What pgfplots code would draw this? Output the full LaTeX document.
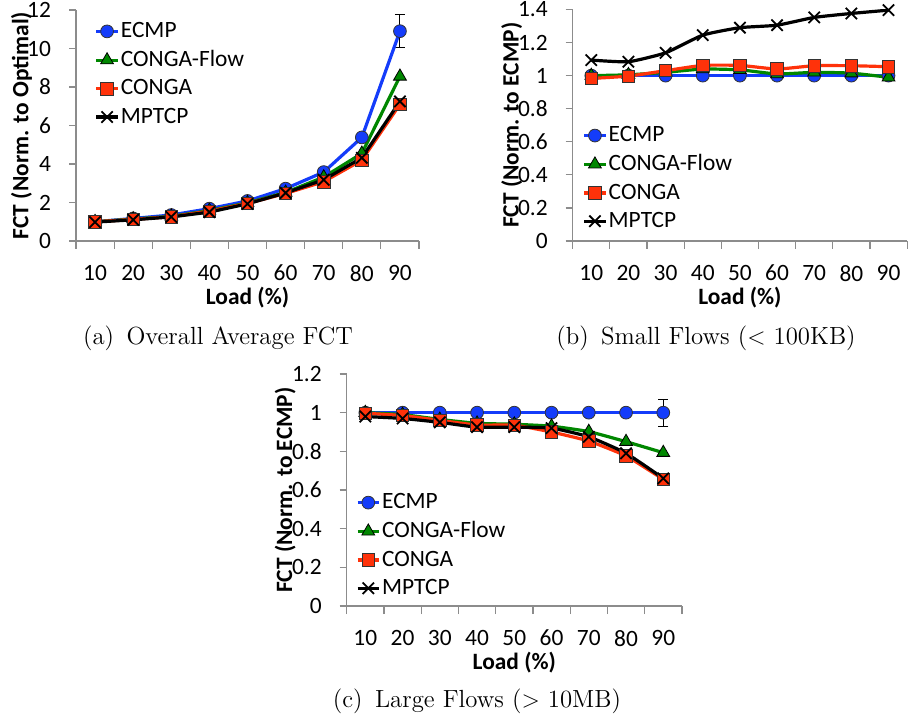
\documentclass[border=0pt]{standalone}
\usepackage{fontspec}
\usepackage{pgfplots}
\pgfplotsset{compat=1.18}
\newfontfamily\carlito{Carlito}
\definecolor{ecmpblue}{RGB}{20,60,250}
\definecolor{flowgreen}{RGB}{0,135,0}
\definecolor{congared}{RGB}{255,50,10}
\definecolor{axgray}{RGB}{140,140,140}

\pgfplotsset{
  fctaxis/.style={
    scale only axis,
    axis x line*=bottom, axis y line*=left,
    xmin=-0.5, xmax=8.5, ymin=0,
    xtick={0,1,2,3,4,5,6,7,8},
    xticklabels={10,20,30,40,50,60,70,80,90},
    minor xtick={-0.5,0.5,1.5,2.5,3.5,4.5,5.5,6.5,7.5,8.5},
    tick align=outside,
    major tick length=3.5pt, minor tick length=4pt,
    tick style={axgray, line width=0.6pt},
    major x tick style={draw=none},
    axis line style={axgray, line width=0.6pt},
    ticklabel style={font=\carlito\fontsize{11.7}{13}\selectfont},
    /pgf/number format/assume math mode=true,
    xticklabel style={yshift=-5pt},
    yticklabel style={xshift=-5.5pt},
    xlabel={Load (\%)},
    every axis x label/.style={at={([yshift=-28.5pt]axis description cs:0.5,0)},anchor=center,
      font=\carlito\bfseries\fontsize{11.7}{13}\selectfont},
    legend cell align=left,
    legend style={draw=none, fill=none, inner sep=0pt, outer sep=0pt,
      anchor=north west, row sep=1pt, nodes={inner xsep=0.8pt},
      font=\carlito\fontsize{11.7}{13}\selectfont},
    legend image code/.code={\draw[mark repeat=2,mark phase=2,##1] plot coordinates {(0pt,0pt)(5.3pt,0pt)(10.6pt,0pt)};},
  },
  ylab/.style={every axis y label/.style={at={([xshift=-#1]axis description cs:0,0.5)},rotate=90,anchor=center,
      font=\carlito\bfseries\fontsize{11.7}{13}\selectfont}},
  ecmp/.style={color=ecmpblue, line width=1.6pt, mark=*, mark size=3.2pt,
    mark options={fill=ecmpblue, draw=black!80, line width=0.4pt}},
  flow/.style={color=flowgreen, line width=1.6pt, mark=triangle*, mark size=3.7pt,
    mark options={fill=flowgreen, draw=black, line width=0.4pt}},
  conga/.style={color=congared, line width=1.6pt, mark=square*, mark size=3.1pt,
    mark options={fill=congared, draw=black!80, line width=0.4pt}},
  mptcp/.style={color=black, line width=1.6pt, mark=x, mark size=4pt,
    mark options={line width=0.9pt}},
  errbar/.style={forget plot, draw=none, mark=none,
    error bars/.cd, y dir=both, y explicit,
    error bar style={draw=black, line width=0.5pt},
    error mark options={draw=black, line width=0.5pt, mark size=2.5pt, rotate=90}},
}

\begin{document}
\begin{tikzpicture}
\path[use as bounding box] (0,0) rectangle (454.5pt,358.5pt);

% (a) overall average FCT
\begin{axis}[fctaxis, at={(38pt,238pt)}, anchor=south west,
  width=171.5pt, height=115.5pt,
  ymax=12, ytick={0,2,4,6,8,10,12},
  ylabel={FCT (Norm. to Optimal)}, ylab=27.2pt,
  legend style={at={(axis description cs:0.055,0.964)}},
]
\addplot[errbar] coordinates {(8,10.9) +- (0,0.85)};
\addplot[ecmp] coordinates {(0,1.0)(1,1.17)(2,1.35)(3,1.68)(4,2.08)(5,2.72)(6,3.58)(7,5.38)(8,10.9)};
\addplot[flow] coordinates {(0,1.0)(1,1.14)(2,1.28)(3,1.58)(4,1.98)(5,2.52)(6,3.32)(7,4.55)(8,8.55)};
\addplot[conga] coordinates {(0,1.0)(1,1.12)(2,1.26)(3,1.55)(4,1.95)(5,2.47)(6,3.08)(7,4.2)(8,7.1)};
\addplot[mptcp] coordinates {(0,0.98)(1,1.1)(2,1.25)(3,1.5)(4,1.93)(5,2.5)(6,3.18)(7,4.32)(8,7.25)};
\legend{ECMP,CONGA-Flow,CONGA,MPTCP}
\end{axis}

% (b) small flows
\begin{axis}[fctaxis, at={(286.35pt,238pt)}, anchor=south west,
  width=167.2pt, height=115.75pt,
  ymax=1.4, ytick={0,0.2,0.4,0.6,0.8,1,1.2,1.4},
  yticklabel style={/pgf/number format/fixed,/pgf/number format/precision=1},
  ylabel={FCT (Norm. to ECMP)}, ylab=30.5pt,
  legend style={at={(axis description cs:0.03,0.512)}},
]
\addplot[ecmp, smooth, tension=0.3] coordinates {(0,1.0)(1,1.0)(2,1.0)(3,1.0)(4,1.0)(5,1.0)(6,1.0)(7,1.0)(8,1.0)};
\addplot[flow, smooth, tension=0.3] coordinates {(0,1.0)(1,1.005)(2,1.02)(3,1.04)(4,1.035)(5,1.01)(6,1.02)(7,1.015)(8,0.99)};
\addplot[conga, smooth, tension=0.3] coordinates {(0,0.983)(1,0.997)(2,1.03)(3,1.062)(4,1.062)(5,1.04)(6,1.06)(7,1.06)(8,1.054)};
\addplot[mptcp, smooth, tension=0.3] coordinates {(0,1.094)(1,1.084)(2,1.138)(3,1.245)(4,1.29)(5,1.305)(6,1.352)(7,1.376)(8,1.396)};
\legend{ECMP,CONGA-Flow,CONGA,MPTCP}
\end{axis}

% (c) large flows
\begin{axis}[fctaxis, at={(173.35pt,55.5pt)}, anchor=south west,
  width=167.6pt, height=116pt,
  ymax=1.2, ytick={0,0.2,0.4,0.6,0.8,1,1.2},
  yticklabel style={/pgf/number format/fixed,/pgf/number format/precision=1},
  ylabel={FCT (Norm. to ECMP)}, ylab=30.8pt,
  legend style={at={(axis description cs:0.028,0.502)}},
]
\addplot[errbar] coordinates {(8,1.0) +- (0,0.07)};
\addplot[ecmp, smooth, tension=0.3] coordinates {(0,1.0)(1,1.0)(2,1.0)(3,1.0)(4,1.0)(5,1.0)(6,1.0)(7,1.0)(8,1.0)};
\addplot[flow, smooth, tension=0.3] coordinates {(0,1.0)(1,0.99)(2,0.965)(3,0.945)(4,0.94)(5,0.93)(6,0.902)(7,0.85)(8,0.793)};
\addplot[conga, smooth, tension=0.3] coordinates {(0,0.997)(1,0.985)(2,0.96)(3,0.936)(4,0.935)(5,0.9)(6,0.853)(7,0.776)(8,0.655)};
\addplot[mptcp, smooth, tension=0.3] coordinates {(0,0.98)(1,0.97)(2,0.95)(3,0.925)(4,0.925)(5,0.92)(6,0.875)(7,0.79)(8,0.66)};
\legend{ECMP,CONGA-Flow,CONGA,MPTCP}
\end{axis}

% sub-figure captions
\node[font=\fontsize{12.4}{14}\selectfont] at (109pt,189.5pt) {(a)\enspace Overall Average FCT};
\node[font=\fontsize{12.4}{14}\selectfont] at (353pt,189.5pt) {(b)\enspace Small Flows ($<$ 100KB)};
\node[font=\fontsize{12.4}{14}\selectfont] at (238.5pt,7.6pt) {(c)\enspace Large Flows ($>$ 10MB)};
\end{tikzpicture}
\end{document}
